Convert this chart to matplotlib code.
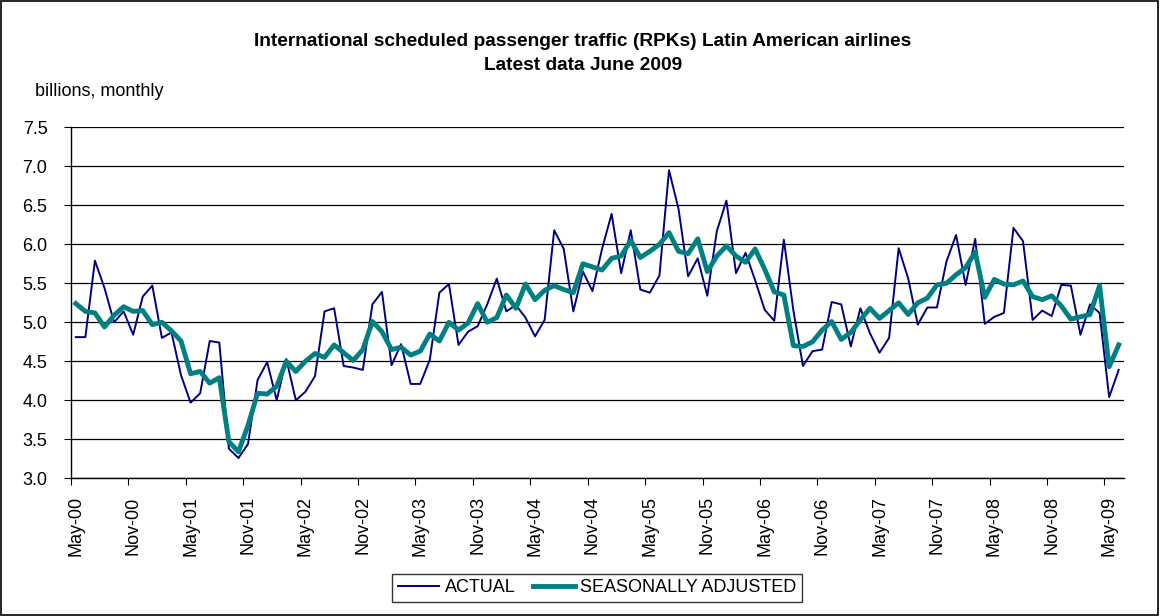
import numpy as np
import matplotlib
matplotlib.use("Agg")
import matplotlib.pyplot as plt
from matplotlib.patches import Rectangle

plt.rcParams['font.family'] = ['Liberation Sans', 'DejaVu Sans']

# monthly data May-00 .. Jun-09, billions RPKs
actual = [4.81, 4.81, 5.79, 5.44, 5.00, 5.14, 4.84, 5.33, 5.47, 4.80,
          4.87, 4.32, 3.97, 4.09, 4.76, 4.74, 3.38, 3.26, 3.44, 4.26,
          4.49, 4.00, 4.53, 4.00, 4.11, 4.31, 5.14, 5.18, 4.44, 4.42,
          4.39, 5.23, 5.39, 4.45, 4.72, 4.21, 4.21, 4.52, 5.38, 5.49,
          4.71, 4.88, 4.95, 5.23, 5.56, 5.14, 5.22, 5.06, 4.82, 5.03,
          6.18, 5.94, 5.14, 5.65, 5.40, 5.94, 6.39, 5.63, 6.18, 5.42,
          5.38, 5.60, 6.95, 6.45, 5.59, 5.82, 5.34, 6.17, 6.56, 5.63,
          5.89, 5.54, 5.16, 5.02, 6.06, 5.15, 4.44, 4.63, 4.65, 5.26,
          5.23, 4.69, 5.18, 4.86, 4.61, 4.80, 5.95, 5.56, 4.97, 5.19,
          5.19, 5.78, 6.12, 5.48, 6.07, 4.98, 5.07, 5.12, 6.21, 6.04,
          5.03, 5.15, 5.08, 5.48, 5.47, 4.84, 5.23, 5.12, 4.04, 4.39]

seas_adj = [5.24, 5.14, 5.12, 4.94, 5.09, 5.20, 5.14, 5.15, 4.97, 5.00,
            4.89, 4.76, 4.34, 4.37, 4.22, 4.29, 3.47, 3.34, 3.68, 4.09,
            4.08, 4.18, 4.50, 4.37, 4.50, 4.60, 4.55, 4.71, 4.61, 4.51,
            4.65, 5.01, 4.88, 4.65, 4.68, 4.58, 4.63, 4.85, 4.76, 5.00,
            4.90, 4.99, 5.24, 5.00, 5.06, 5.35, 5.18, 5.49, 5.29, 5.41,
            5.47, 5.42, 5.38, 5.75, 5.71, 5.67, 5.82, 5.85, 6.05, 5.83,
            5.91, 6.00, 6.15, 5.91, 5.88, 6.07, 5.65, 5.85, 5.98, 5.85,
            5.77, 5.94, 5.68, 5.39, 5.35, 4.70, 4.69, 4.75, 4.90, 5.01,
            4.78, 4.87, 5.03, 5.18, 5.05, 5.15, 5.25, 5.10, 5.25, 5.31,
            5.48, 5.50, 5.61, 5.70, 5.90, 5.32, 5.55, 5.49, 5.48, 5.53,
            5.33, 5.29, 5.34, 5.21, 5.04, 5.07, 5.10, 5.47, 4.43, 4.71]

tick_labels = ['May-00', 'Nov-00', 'May-01', 'Nov-01', 'May-02', 'Nov-02',
               'May-03', 'Nov-03', 'May-04', 'Nov-04', 'May-05', 'Nov-05',
               'May-06', 'Nov-06', 'May-07', 'Nov-07', 'May-08', 'Nov-08',
               'May-09']

x = np.arange(len(actual))

fig = plt.figure(figsize=(11.6, 6.16), dpi=100)
ax = fig.add_axes([71/1160, 1 - 478.3/616, (1123.5 - 71)/1160, (478.3 - 127.3)/616])

ax.plot(x, actual, color='#000080', lw=1.4, label='ACTUAL')
ax.plot(x, seas_adj, color='#008080', lw=3.5, label='SEASONALLY ADJUSTED')

ax.set_xlim(-0.5, len(actual) - 0.5)
ax.set_ylim(3.0, 7.5)
yt = np.arange(3.0, 7.51, 0.5)
ax.set_yticks(yt)
ax.set_yticklabels([f'{v:.1f}' for v in yt], fontsize=13)
ax.grid(True, axis='y', color='black', lw=0.9)
ax.set_axisbelow(True)

# ticks on category boundaries, labels on category centres
ax.set_xticks(np.arange(-0.5, len(actual), 6))
ax.set_xticklabels([])
ax.set_xticks(np.arange(0, len(actual), 6), minor=True)
ax.set_xticklabels(tick_labels, minor=True, rotation=90, fontsize=13)
ax.tick_params(axis='x', which='minor', length=0, pad=13)
ax.tick_params(axis='x', which='major', length=5, direction='out')
ax.tick_params(axis='y', length=5, direction='out', pad=12)

for side in ['top', 'right']:
    ax.spines[side].set_visible(False)
ax.spines['left'].set_linewidth(1.0)
ax.spines['bottom'].set_linewidth(1.0)

fig.text(583/1160, 1 - 42/616, 'International scheduled passenger traffic (RPKs) Latin American airlines',
         ha='center', va='center', fontsize=13.8, fontweight='bold')
fig.text(583/1160, 1 - 66/616, 'Latest data June 2009',
         ha='center', va='center', fontsize=13.8, fontweight='bold')
fig.text(35/1160, 1 - 92/616, 'billions, monthly', ha='left', va='center', fontsize=13)

leg = fig.legend(loc='center', bbox_to_anchor=(597/1160, 1 - 588/616), ncol=2,
                 fontsize=13, frameon=True, fancybox=False, edgecolor='black',
                 handlelength=2.3, handletextpad=0.3, columnspacing=1.0,
                 borderpad=0.3, borderaxespad=0)
leg.get_frame().set_linewidth(1.0)

fig.patches.append(Rectangle((0.001, 0.002), 0.997, 0.996, transform=fig.transFigure,
                             fill=False, edgecolor='black', lw=1.2))

fig.savefig('out.png', dpi=100)
